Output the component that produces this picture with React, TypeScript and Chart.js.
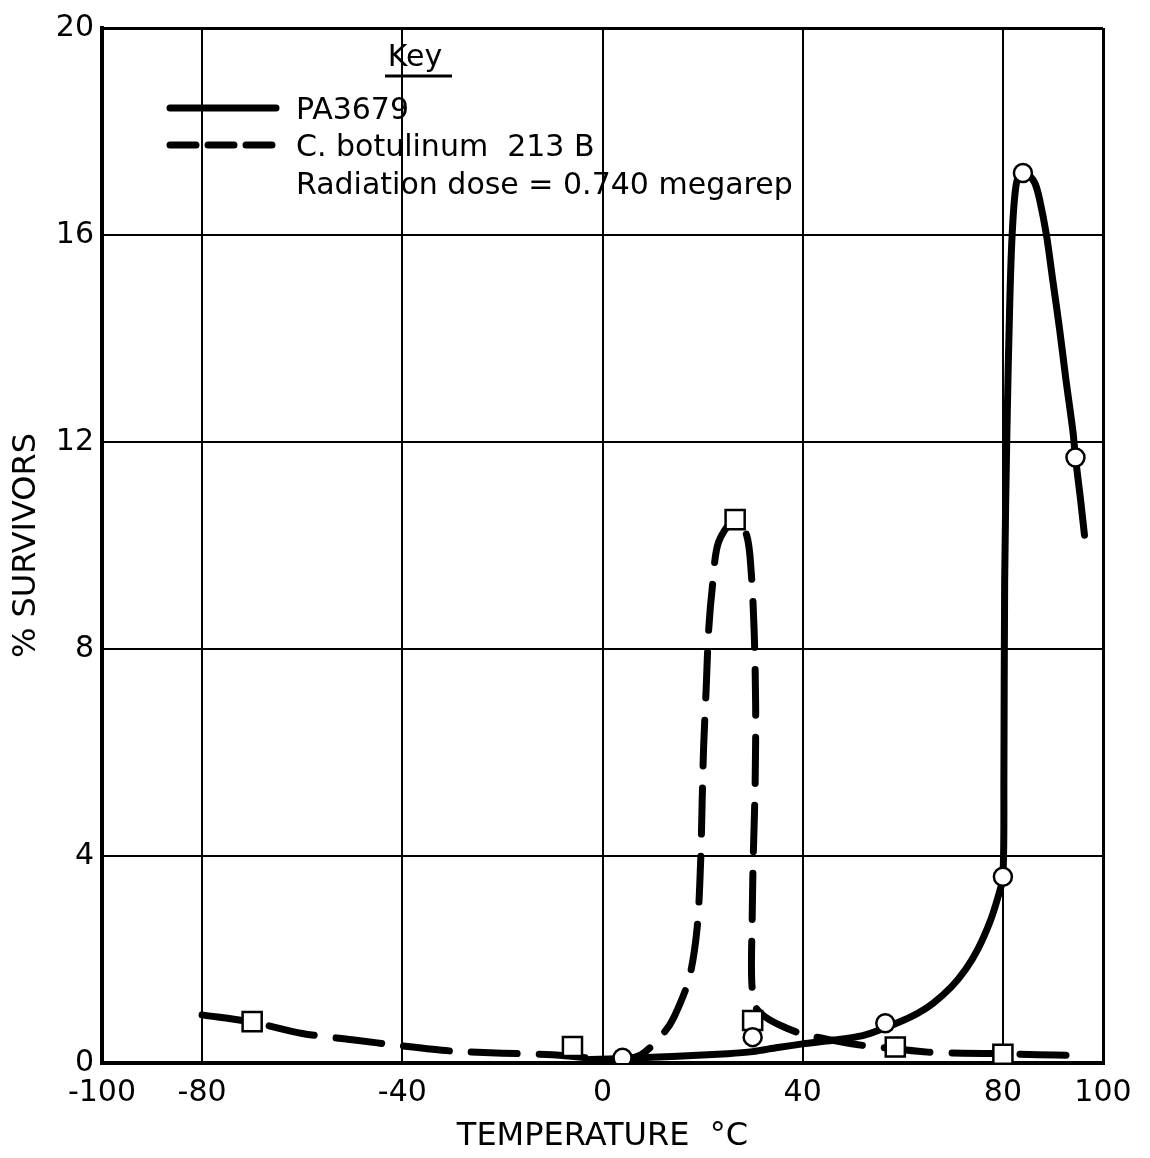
import React, { useEffect, useRef } from 'react';
import { Chart, registerables } from 'chart.js';

Chart.register(...registerables);

// Axis ticks
const xTickValues = [-100, -80, -40, 0, 40, 80, 100];
const yTickValues = [0, 4, 8, 12, 16, 20];

// Series names / key text
const seriesNames = ['PA3679', 'C. botulinum  213 B'];
const keyTitle = 'Key';
const keyNote = 'Radiation dose = 0.740 megarep';
const xTitle = 'TEMPERATURE  °C';
const yTitle = '% SURVIVORS';

// Measured points (markers)
const paTemps = [4, 30, 56.5, 80, 84, 94.5];
const paSurvivors = [0.1, 0.5, 0.77, 3.6, 17.2, 11.7];

const cbTemps = [-70, -6, 26.5, 30, 58.5, 80];
const cbSurvivors = [0.8, 0.32, 10.5, 0.82, 0.31, 0.17];

// Hand-drawn smooth curves
const paCurveTemps = [-2.5, 5, 15, 25, 30, 35, 40, 46, 52, 56.5, 60, 63, 66, 69.7, 72.5, 75, 77.5, 79, 80, 80.2, 80.35, 80.8, 81.4, 81.9, 82.7, 84, 85.3, 86.4, 87.3, 88.7, 90, 91.3, 92.6, 94, 94.5, 95.5, 96.3];
const paCurveSurvivors = [0.07, 0.09, 0.13, 0.18, 0.22, 0.3, 0.37, 0.44, 0.53, 0.68, 0.82, 0.96, 1.15, 1.47, 1.8, 2.2, 2.75, 3.2, 3.6, 5.5, 9.3, 12.2, 14.8, 16.1, 17.0, 17.25, 17.15, 17.0, 16.7, 16.0, 15.1, 14.2, 13.2, 12.2, 11.7, 10.9, 10.2];

const cbCurveTemps = [-80, -70, -60, -50, -40, -30, -20, -10, -2, 3, 7.7, 12.3, 14.3, 17.3, 18.9, 19.6, 19.9, 20.2, 20.7, 21.2, 22, 23.2, 26.5, 28.8, 29.7, 30.3, 30.6, 30.5, 30.1, 29.9, 29.8, 30.5, 32.4, 35.7, 40, 46, 52, 58, 65, 72, 80, 87, 94];
const cbCurveSurvivors = [0.93, 0.79, 0.57, 0.45, 0.33, 0.23, 0.19, 0.16, 0.09, 0.06, 0.16, 0.59, 0.89, 1.63, 2.6, 3.87, 5.0, 6.1, 7.2, 8.35, 9.25, 10.07, 10.5, 10.2, 9.5, 8.35, 6.9, 5.4, 3.9, 2.75, 1.63, 1.1, 0.9, 0.72, 0.56, 0.44, 0.34, 0.28, 0.21, 0.19, 0.18, 0.16, 0.15];

const FONT = '"DejaVu Sans", "Liberation Sans", sans-serif';

const zip = (xs: number[], ys: number[]) => xs.map((x, i) => ({ x, y: ys[i] }));

const keyPlugin = {
  id: 'keyPlugin',
  afterDraw(chart: any) {
    const { ctx, chartArea } = chart;
    const L = chartArea.left;
    const T = chartArea.top;
    const curves = [chart.data.datasets[2], chart.data.datasets[3]];
    ctx.save();
    ctx.fillStyle = '#000';
    ctx.strokeStyle = '#000';
    ctx.font = `30px ${FONT}`;
    ctx.textBaseline = 'alphabetic';
    ctx.textAlign = 'center';
    ctx.fillText(keyTitle, L + 313, T + 38);
    ctx.lineWidth = 3;
    ctx.beginPath();
    ctx.moveTo(L + 283, T + 48);
    ctx.lineTo(L + 350, T + 48);
    ctx.stroke();
    ctx.textAlign = 'left';
    const rows = [T + 91, T + 128];
    rows.forEach((b, i) => {
      const ds = curves[i];
      ctx.save();
      ctx.lineWidth = ds.borderWidth;
      ctx.setLineDash(i === 1 ? [26, 12] : []);
      ctx.lineCap = ds.borderCapStyle || 'butt';
      ctx.beginPath();
      ctx.moveTo(L + 68, b - 11);
      ctx.lineTo(L + 174, b - 11);
      ctx.stroke();
      ctx.restore();
      ctx.fillText(seriesNames[i], L + 194, b);
    });
    ctx.fillText(keyNote, L + 194, T + 166);
    ctx.restore();
  },
};

export default function App() {
  const canvasRef = useRef<HTMLCanvasElement | null>(null);

  useEffect(() => {
    const canvas = canvasRef.current;
    if (!canvas) return;
    const edgeWidth = (v: number, lo: number, hi: number) => (v === lo || v === hi ? 3 : 2);
    const chart = new Chart(canvas, {
      type: 'scatter',
      data: {
        datasets: [
          {
            label: seriesNames[0] + ' points',
            data: zip(paTemps, paSurvivors),
            showLine: false,
            pointStyle: 'circle',
            pointRadius: 9,
            pointBorderWidth: 2.5,
            pointBackgroundColor: '#fff',
            pointBorderColor: '#000',
            order: 0,
          },
          {
            label: seriesNames[1] + ' points',
            data: zip(cbTemps, cbSurvivors),
            showLine: false,
            pointStyle: 'rect',
            pointRadius: 13.5,
            pointBorderWidth: 2.5,
            pointBackgroundColor: '#fff',
            pointBorderColor: '#000',
            order: 0,
          },
          {
            label: seriesNames[0],
            data: zip(paCurveTemps, paCurveSurvivors),
            showLine: true,
            borderColor: '#000',
            borderWidth: 7,
            borderCapStyle: 'round',
            borderJoinStyle: 'round',
            tension: 0.3,
            pointRadius: 0,
            order: 1,
          },
          {
            label: seriesNames[1],
            data: zip(cbCurveTemps, cbCurveSurvivors),
            showLine: true,
            borderColor: '#000',
            borderWidth: 7,
            borderDash: [46, 22],
            borderCapStyle: 'round',
            borderJoinStyle: 'round',
            tension: 0.3,
            pointRadius: 0,
            order: 1,
          },
        ],
      },
      options: {
        responsive: false,
        animation: false,
        events: [],
        layout: { padding: { top: 28, right: 47, left: 0, bottom: 0 } },
        plugins: {
          legend: { display: false },
          tooltip: { enabled: false },
        },
        scales: {
          x: {
            type: 'linear',
            min: -100,
            max: 100,
            afterBuildTicks: (axis: any) => {
              axis.ticks = xTickValues.map((v) => ({ value: v }));
            },
            afterFit: (scale: any) => {
              scale.height = 95;
            },
            grid: {
              color: '#000',
              lineWidth: (c: any) => edgeWidth(c.tick?.value, -100, 100),
              drawTicks: false,
            },
            border: { display: true, color: '#000', width: 4 },
            ticks: {
              color: '#000',
              font: { family: FONT, size: 30 },
              padding: 12,
              maxRotation: 0,
              autoSkip: false,
              callback: (v: any) => String(v),
            },
            title: {
              display: true,
              text: xTitle,
              color: '#000',
              font: { family: FONT, size: 32 },
              padding: { top: 0, bottom: 2 },
            },
          },
          y: {
            type: 'linear',
            min: 0,
            max: 20,
            afterBuildTicks: (axis: any) => {
              axis.ticks = yTickValues.map((v) => ({ value: v }));
            },
            afterFit: (scale: any) => {
              scale.width = 102;
            },
            grid: {
              color: '#000',
              lineWidth: (c: any) => edgeWidth(c.tick?.value, 0, 20),
              drawTicks: false,
            },
            border: { display: true, color: '#000', width: 4 },
            ticks: {
              color: '#000',
              font: { family: FONT, size: 30 },
              padding: 8,
              autoSkip: false,
              callback: (v: any) => String(v),
            },
            title: {
              display: true,
              text: yTitle,
              color: '#000',
              font: { family: FONT, size: 32 },
              padding: { top: 7, bottom: 0 },
            },
          },
        },
      },
      plugins: [keyPlugin],
    } as any);
    return () => chart.destroy();
  }, []);

  return (
    <div style={{ position: 'fixed', left: 0, top: 0, width: 1150, height: 1158, background: '#fff' }}>
      <canvas ref={canvasRef} width={1150} height={1158} style={{ width: 1150, height: 1158, display: 'block' }} />
    </div>
  );
}
